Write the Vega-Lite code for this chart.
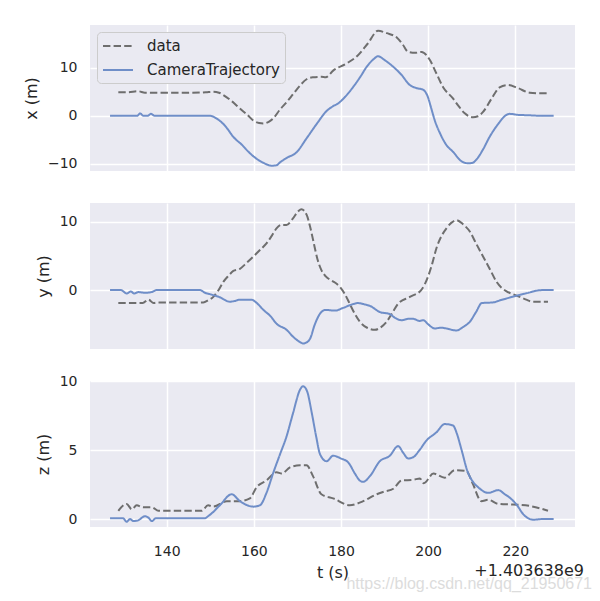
{
  "$schema": "https://vega.github.io/schema/vega-lite/v6.json",
  "autosize": {"type": "pad"},
  "padding": {"left": 23, "top": 25, "right": 5, "bottom": 5},
  "background": "white",
  "bounds": "flush",
  "config": {
    "font": "DejaVu Sans",
    "view": {"fill": "#EAEAF2", "stroke": null},
    "axis": {"grid": true, "gridColor": "white", "gridWidth": 1.5, "domain": false, "ticks": false, "labelFont": "DejaVu Sans", "labelFontSize": 14, "labelColor": "#262626", "titleFont": "DejaVu Sans", "titleFontSize": 16, "titleFontWeight": "normal", "titleColor": "#262626", "labelPadding": 13},
    "concat": {"spacing": 32}
  },
  "datasets": {
    "d": [
      {"p":"x","s":"data","t":128.9,"v":4.9},{"p":"x","s":"data","t":131,"v":4.9},{"p":"x","s":"data","t":133.5,"v":5.1},{"p":"x","s":"data","t":135,"v":4.8},{"p":"x","s":"data","t":140,"v":4.8},{"p":"x","s":"data","t":145,"v":4.8},{"p":"x","s":"data","t":149,"v":4.9},{"p":"x","s":"data","t":150.7,"v":5.0},{"p":"x","s":"data","t":152,"v":4.8},{"p":"x","s":"data","t":153,"v":4.3},{"p":"x","s":"data","t":155,"v":3.0},{"p":"x","s":"data","t":156.8,"v":1.5},{"p":"x","s":"data","t":158.5,"v":0.2},{"p":"x","s":"data","t":159.9,"v":-1.0},{"p":"x","s":"data","t":161.2,"v":-1.5},{"p":"x","s":"data","t":162.2,"v":-1.6},{"p":"x","s":"data","t":163.5,"v":-1.2},{"p":"x","s":"data","t":164.5,"v":-0.5},{"p":"x","s":"data","t":166,"v":1.3},{"p":"x","s":"data","t":167.5,"v":2.8},{"p":"x","s":"data","t":169,"v":4.5},{"p":"x","s":"data","t":170.6,"v":6.3},{"p":"x","s":"data","t":172.1,"v":7.6},{"p":"x","s":"data","t":173.5,"v":8.0},{"p":"x","s":"data","t":175.5,"v":8.1},{"p":"x","s":"data","t":176.5,"v":8.0},{"p":"x","s":"data","t":178.2,"v":9.4},{"p":"x","s":"data","t":181.3,"v":10.9},{"p":"x","s":"data","t":183.9,"v":12.6},{"p":"x","s":"data","t":186.2,"v":15.1},{"p":"x","s":"data","t":188.5,"v":17.7},{"p":"x","s":"data","t":190.5,"v":17.2},{"p":"x","s":"data","t":192.8,"v":16.3},{"p":"x","s":"data","t":194.2,"v":14.8},{"p":"x","s":"data","t":195.4,"v":13.3},{"p":"x","s":"data","t":197,"v":13.1},{"p":"x","s":"data","t":198.5,"v":13.3},{"p":"x","s":"data","t":200.4,"v":11.6},{"p":"x","s":"data","t":201.9,"v":8.8},{"p":"x","s":"data","t":203.4,"v":6.0},{"p":"x","s":"data","t":205.7,"v":3.6},{"p":"x","s":"data","t":207,"v":2.0},{"p":"x","s":"data","t":208.4,"v":0.5},{"p":"x","s":"data","t":210.3,"v":-0.3},{"p":"x","s":"data","t":211.4,"v":-0.1},{"p":"x","s":"data","t":212.6,"v":0.8},{"p":"x","s":"data","t":214.5,"v":3.5},{"p":"x","s":"data","t":216.4,"v":5.9},{"p":"x","s":"data","t":218.3,"v":6.4},{"p":"x","s":"data","t":220.5,"v":5.8},{"p":"x","s":"data","t":223.3,"v":4.8},{"p":"x","s":"data","t":225.5,"v":4.7},{"p":"x","s":"data","t":227.5,"v":4.7},

      {"p":"x","s":"CameraTrajectory","t":127,"v":0},{"p":"x","s":"CameraTrajectory","t":133.2,"v":0},{"p":"x","s":"CameraTrajectory","t":133.9,"v":0.5},{"p":"x","s":"CameraTrajectory","t":134.6,"v":0},{"p":"x","s":"CameraTrajectory","t":135.6,"v":0},{"p":"x","s":"CameraTrajectory","t":136.4,"v":0.4},{"p":"x","s":"CameraTrajectory","t":137.2,"v":0},{"p":"x","s":"CameraTrajectory","t":145,"v":0},{"p":"x","s":"CameraTrajectory","t":149.9,"v":0},{"p":"x","s":"CameraTrajectory","t":151.5,"v":-0.6},{"p":"x","s":"CameraTrajectory","t":153.5,"v":-2.2},{"p":"x","s":"CameraTrajectory","t":155.3,"v":-4.4},{"p":"x","s":"CameraTrajectory","t":157.2,"v":-6.0},{"p":"x","s":"CameraTrajectory","t":159.1,"v":-7.8},{"p":"x","s":"CameraTrajectory","t":160.7,"v":-9.0},{"p":"x","s":"CameraTrajectory","t":162.2,"v":-9.8},{"p":"x","s":"CameraTrajectory","t":164.1,"v":-10.4},{"p":"x","s":"CameraTrajectory","t":165.2,"v":-10.3},{"p":"x","s":"CameraTrajectory","t":166,"v":-9.7},{"p":"x","s":"CameraTrajectory","t":167.5,"v":-8.8},{"p":"x","s":"CameraTrajectory","t":169.8,"v":-7.6},{"p":"x","s":"CameraTrajectory","t":172.1,"v":-4.7},{"p":"x","s":"CameraTrajectory","t":174.5,"v":-1.6},{"p":"x","s":"CameraTrajectory","t":176.7,"v":1.0},{"p":"x","s":"CameraTrajectory","t":178.2,"v":2.0},{"p":"x","s":"CameraTrajectory","t":179.4,"v":2.6},{"p":"x","s":"CameraTrajectory","t":181,"v":4.0},{"p":"x","s":"CameraTrajectory","t":182.8,"v":6.0},{"p":"x","s":"CameraTrajectory","t":184.5,"v":8.2},{"p":"x","s":"CameraTrajectory","t":185.9,"v":10.2},{"p":"x","s":"CameraTrajectory","t":187.5,"v":11.8},{"p":"x","s":"CameraTrajectory","t":188.5,"v":12.4},{"p":"x","s":"CameraTrajectory","t":190,"v":11.6},{"p":"x","s":"CameraTrajectory","t":192,"v":10.2},{"p":"x","s":"CameraTrajectory","t":193.8,"v":8.6},{"p":"x","s":"CameraTrajectory","t":195.8,"v":6.4},{"p":"x","s":"CameraTrajectory","t":197.2,"v":5.8},{"p":"x","s":"CameraTrajectory","t":198.9,"v":5.4},{"p":"x","s":"CameraTrajectory","t":199.9,"v":4.0},{"p":"x","s":"CameraTrajectory","t":200.7,"v":1.6},{"p":"x","s":"CameraTrajectory","t":201.5,"v":-0.9},{"p":"x","s":"CameraTrajectory","t":202.8,"v":-3.8},{"p":"x","s":"CameraTrajectory","t":204.2,"v":-6.1},{"p":"x","s":"CameraTrajectory","t":205.7,"v":-7.5},{"p":"x","s":"CameraTrajectory","t":207.7,"v":-9.5},{"p":"x","s":"CameraTrajectory","t":209.2,"v":-9.9},{"p":"x","s":"CameraTrajectory","t":210.2,"v":-9.8},{"p":"x","s":"CameraTrajectory","t":211.1,"v":-9.1},{"p":"x","s":"CameraTrajectory","t":212.6,"v":-7.0},{"p":"x","s":"CameraTrajectory","t":214.1,"v":-4.4},{"p":"x","s":"CameraTrajectory","t":216,"v":-1.8},{"p":"x","s":"CameraTrajectory","t":218,"v":0.2},{"p":"x","s":"CameraTrajectory","t":218.7,"v":0.4},{"p":"x","s":"CameraTrajectory","t":220.5,"v":0.2},{"p":"x","s":"CameraTrajectory","t":223.3,"v":0.1},{"p":"x","s":"CameraTrajectory","t":226,"v":0},{"p":"x","s":"CameraTrajectory","t":228.8,"v":0},

      {"p":"y","s":"data","t":128.9,"v":-1.9},{"p":"y","s":"data","t":134.5,"v":-1.9},{"p":"y","s":"data","t":135.8,"v":-1.4},{"p":"y","s":"data","t":137,"v":-1.9},{"p":"y","s":"data","t":138,"v":-1.8},{"p":"y","s":"data","t":148.4,"v":-1.8},{"p":"y","s":"data","t":149.5,"v":-1.5},{"p":"y","s":"data","t":150.7,"v":-1.0},{"p":"y","s":"data","t":151.8,"v":-0.1},{"p":"y","s":"data","t":153,"v":1.2},{"p":"y","s":"data","t":154.2,"v":2.1},{"p":"y","s":"data","t":155.3,"v":2.8},{"p":"y","s":"data","t":156.8,"v":3.1},{"p":"y","s":"data","t":158.4,"v":4.0},{"p":"y","s":"data","t":159.9,"v":4.9},{"p":"y","s":"data","t":161.5,"v":5.9},{"p":"y","s":"data","t":162.9,"v":6.8},{"p":"y","s":"data","t":164.1,"v":7.9},{"p":"y","s":"data","t":165.2,"v":9.0},{"p":"y","s":"data","t":166.3,"v":9.5},{"p":"y","s":"data","t":167.5,"v":9.5},{"p":"y","s":"data","t":168.8,"v":10.3},{"p":"y","s":"data","t":170.2,"v":11.5},{"p":"y","s":"data","t":170.9,"v":11.8},{"p":"y","s":"data","t":172.1,"v":11.0},{"p":"y","s":"data","t":173,"v":9.0},{"p":"y","s":"data","t":173.6,"v":7.3},{"p":"y","s":"data","t":174.6,"v":4.5},{"p":"y","s":"data","t":175.5,"v":2.9},{"p":"y","s":"data","t":176.5,"v":2.0},{"p":"y","s":"data","t":177.5,"v":1.5},{"p":"y","s":"data","t":178.6,"v":1.1},{"p":"y","s":"data","t":179.7,"v":0.5},{"p":"y","s":"data","t":180.9,"v":-0.6},{"p":"y","s":"data","t":182,"v":-2.0},{"p":"y","s":"data","t":183.2,"v":-3.5},{"p":"y","s":"data","t":184.3,"v":-4.6},{"p":"y","s":"data","t":186,"v":-5.5},{"p":"y","s":"data","t":187.8,"v":-5.8},{"p":"y","s":"data","t":189.2,"v":-5.4},{"p":"y","s":"data","t":190.5,"v":-4.6},{"p":"y","s":"data","t":191.8,"v":-3.3},{"p":"y","s":"data","t":193.1,"v":-2.0},{"p":"y","s":"data","t":195.8,"v":-1.0},{"p":"y","s":"data","t":198.4,"v":0},{"p":"y","s":"data","t":200,"v":2.0},{"p":"y","s":"data","t":201,"v":4.0},{"p":"y","s":"data","t":201.9,"v":6.1},{"p":"y","s":"data","t":203,"v":7.8},{"p":"y","s":"data","t":204.2,"v":9.0},{"p":"y","s":"data","t":205.3,"v":9.8},{"p":"y","s":"data","t":206.5,"v":10.2},{"p":"y","s":"data","t":208,"v":9.6},{"p":"y","s":"data","t":209.6,"v":8.5},{"p":"y","s":"data","t":211,"v":6.8},{"p":"y","s":"data","t":212.6,"v":4.9},{"p":"y","s":"data","t":214.2,"v":3.0},{"p":"y","s":"data","t":215.7,"v":1.2},{"p":"y","s":"data","t":218,"v":-0.2},{"p":"y","s":"data","t":219.5,"v":-0.6},{"p":"y","s":"data","t":221,"v":-1.0},{"p":"y","s":"data","t":222.5,"v":-1.4},{"p":"y","s":"data","t":224,"v":-1.7},{"p":"y","s":"data","t":227.5,"v":-1.7},

      {"p":"y","s":"CameraTrajectory","t":127,"v":0},{"p":"y","s":"CameraTrajectory","t":129.5,"v":0},{"p":"y","s":"CameraTrajectory","t":130.8,"v":-0.5},{"p":"y","s":"CameraTrajectory","t":131.8,"v":-0.2},{"p":"y","s":"CameraTrajectory","t":132.5,"v":-0.5},{"p":"y","s":"CameraTrajectory","t":133.5,"v":-0.3},{"p":"y","s":"CameraTrajectory","t":135,"v":-0.4},{"p":"y","s":"CameraTrajectory","t":136.5,"v":-0.3},{"p":"y","s":"CameraTrajectory","t":137.7,"v":0},{"p":"y","s":"CameraTrajectory","t":147.6,"v":0},{"p":"y","s":"CameraTrajectory","t":148.8,"v":-0.4},{"p":"y","s":"CameraTrajectory","t":149.9,"v":-0.6},{"p":"y","s":"CameraTrajectory","t":152,"v":-1.0},{"p":"y","s":"CameraTrajectory","t":154.5,"v":-1.7},{"p":"y","s":"CameraTrajectory","t":155.6,"v":-1.6},{"p":"y","s":"CameraTrajectory","t":156.8,"v":-1.4},{"p":"y","s":"CameraTrajectory","t":159.5,"v":-1.4},{"p":"y","s":"CameraTrajectory","t":160.5,"v":-1.8},{"p":"y","s":"CameraTrajectory","t":162.2,"v":-2.9},{"p":"y","s":"CameraTrajectory","t":163.8,"v":-3.8},{"p":"y","s":"CameraTrajectory","t":165.2,"v":-4.9},{"p":"y","s":"CameraTrajectory","t":167.5,"v":-5.8},{"p":"y","s":"CameraTrajectory","t":169,"v":-6.8},{"p":"y","s":"CameraTrajectory","t":170.6,"v":-7.6},{"p":"y","s":"CameraTrajectory","t":171.3,"v":-7.8},{"p":"y","s":"CameraTrajectory","t":172.2,"v":-7.6},{"p":"y","s":"CameraTrajectory","t":172.9,"v":-7.1},{"p":"y","s":"CameraTrajectory","t":174,"v":-5.0},{"p":"y","s":"CameraTrajectory","t":175.5,"v":-3.2},{"p":"y","s":"CameraTrajectory","t":176.5,"v":-2.9},{"p":"y","s":"CameraTrajectory","t":178.6,"v":-3.0},{"p":"y","s":"CameraTrajectory","t":180.5,"v":-2.6},{"p":"y","s":"CameraTrajectory","t":182.5,"v":-2.1},{"p":"y","s":"CameraTrajectory","t":183.9,"v":-1.9},{"p":"y","s":"CameraTrajectory","t":185.5,"v":-2.1},{"p":"y","s":"CameraTrajectory","t":186.6,"v":-2.3},{"p":"y","s":"CameraTrajectory","t":188.9,"v":-3.2},{"p":"y","s":"CameraTrajectory","t":191.2,"v":-3.5},{"p":"y","s":"CameraTrajectory","t":192.5,"v":-4.1},{"p":"y","s":"CameraTrajectory","t":193.9,"v":-4.4},{"p":"y","s":"CameraTrajectory","t":195.5,"v":-4.2},{"p":"y","s":"CameraTrajectory","t":196.6,"v":-4.2},{"p":"y","s":"CameraTrajectory","t":198,"v":-4.5},{"p":"y","s":"CameraTrajectory","t":198.9,"v":-4.4},{"p":"y","s":"CameraTrajectory","t":200,"v":-5.0},{"p":"y","s":"CameraTrajectory","t":201.5,"v":-5.6},{"p":"y","s":"CameraTrajectory","t":203,"v":-5.5},{"p":"y","s":"CameraTrajectory","t":204.2,"v":-5.6},{"p":"y","s":"CameraTrajectory","t":206.5,"v":-5.9},{"p":"y","s":"CameraTrajectory","t":208,"v":-5.4},{"p":"y","s":"CameraTrajectory","t":209.6,"v":-4.6},{"p":"y","s":"CameraTrajectory","t":211,"v":-3.2},{"p":"y","s":"CameraTrajectory","t":212.3,"v":-1.9},{"p":"y","s":"CameraTrajectory","t":214.9,"v":-1.8},{"p":"y","s":"CameraTrajectory","t":216.5,"v":-1.5},{"p":"y","s":"CameraTrajectory","t":218.7,"v":-1.1},{"p":"y","s":"CameraTrajectory","t":221,"v":-0.7},{"p":"y","s":"CameraTrajectory","t":223,"v":-0.4},{"p":"y","s":"CameraTrajectory","t":224.8,"v":-0.1},{"p":"y","s":"CameraTrajectory","t":226.5,"v":0},{"p":"y","s":"CameraTrajectory","t":228.8,"v":0},

      {"p":"z","s":"data","t":128.9,"v":0.6},{"p":"z","s":"data","t":130.8,"v":1.1},{"p":"z","s":"data","t":132,"v":0.7},{"p":"z","s":"data","t":133.1,"v":1.0},{"p":"z","s":"data","t":134.6,"v":0.85},{"p":"z","s":"data","t":136.6,"v":0.85},{"p":"z","s":"data","t":138.1,"v":0.6},{"p":"z","s":"data","t":148,"v":0.6},{"p":"z","s":"data","t":149.5,"v":1.0},{"p":"z","s":"data","t":150.7,"v":0.9},{"p":"z","s":"data","t":153.8,"v":1.3},{"p":"z","s":"data","t":156.8,"v":1.3},{"p":"z","s":"data","t":159.1,"v":1.5},{"p":"z","s":"data","t":160.6,"v":2.3},{"p":"z","s":"data","t":162.9,"v":2.8},{"p":"z","s":"data","t":165.2,"v":3.4},{"p":"z","s":"data","t":166.4,"v":3.3},{"p":"z","s":"data","t":168.3,"v":3.75},{"p":"z","s":"data","t":170.6,"v":3.9},{"p":"z","s":"data","t":172.1,"v":3.9},{"p":"z","s":"data","t":173.6,"v":3.1},{"p":"z","s":"data","t":175.5,"v":1.8},{"p":"z","s":"data","t":178.2,"v":1.5},{"p":"z","s":"data","t":182,"v":1.0},{"p":"z","s":"data","t":185.1,"v":1.3},{"p":"z","s":"data","t":188.2,"v":1.8},{"p":"z","s":"data","t":190,"v":2.0},{"p":"z","s":"data","t":192,"v":2.2},{"p":"z","s":"data","t":193.9,"v":2.8},{"p":"z","s":"data","t":196.6,"v":2.85},{"p":"z","s":"data","t":198.1,"v":2.95},{"p":"z","s":"data","t":199,"v":2.6},{"p":"z","s":"data","t":201.2,"v":3.3},{"p":"z","s":"data","t":203.8,"v":3.0},{"p":"z","s":"data","t":206.1,"v":3.55},{"p":"z","s":"data","t":208.7,"v":3.5},{"p":"z","s":"data","t":210.2,"v":2.6},{"p":"z","s":"data","t":212.2,"v":1.3},{"p":"z","s":"data","t":213.8,"v":1.4},{"p":"z","s":"data","t":216.1,"v":1.1},{"p":"z","s":"data","t":219.5,"v":1.05},{"p":"z","s":"data","t":223.3,"v":0.95},{"p":"z","s":"data","t":227.5,"v":0.6},

      {"p":"z","s":"CameraTrajectory","t":127,"v":0.05},{"p":"z","s":"CameraTrajectory","t":130,"v":0.05},{"p":"z","s":"CameraTrajectory","t":130.8,"v":-0.2},{"p":"z","s":"CameraTrajectory","t":131.6,"v":0},{"p":"z","s":"CameraTrajectory","t":132.3,"v":-0.15},{"p":"z","s":"CameraTrajectory","t":133.4,"v":-0.1},{"p":"z","s":"CameraTrajectory","t":135,"v":0.2},{"p":"z","s":"CameraTrajectory","t":135.8,"v":0.1},{"p":"z","s":"CameraTrajectory","t":136.6,"v":-0.15},{"p":"z","s":"CameraTrajectory","t":137.5,"v":0.05},{"p":"z","s":"CameraTrajectory","t":148.6,"v":0.05},{"p":"z","s":"CameraTrajectory","t":149.9,"v":0.3},{"p":"z","s":"CameraTrajectory","t":152.2,"v":1.0},{"p":"z","s":"CameraTrajectory","t":154.9,"v":1.8},{"p":"z","s":"CameraTrajectory","t":156.8,"v":1.3},{"p":"z","s":"CameraTrajectory","t":159.9,"v":0.9},{"p":"z","s":"CameraTrajectory","t":161.4,"v":1.0},{"p":"z","s":"CameraTrajectory","t":162.9,"v":1.9},{"p":"z","s":"CameraTrajectory","t":164.5,"v":3.4},{"p":"z","s":"CameraTrajectory","t":166,"v":4.7},{"p":"z","s":"CameraTrajectory","t":167.5,"v":6.0},{"p":"z","s":"CameraTrajectory","t":169,"v":7.7},{"p":"z","s":"CameraTrajectory","t":170.6,"v":9.4},{"p":"z","s":"CameraTrajectory","t":171.3,"v":9.65},{"p":"z","s":"CameraTrajectory","t":172.2,"v":9.3},{"p":"z","s":"CameraTrajectory","t":173.3,"v":7.7},{"p":"z","s":"CameraTrajectory","t":174.3,"v":6.0},{"p":"z","s":"CameraTrajectory","t":175.2,"v":4.7},{"p":"z","s":"CameraTrajectory","t":176.7,"v":4.2},{"p":"z","s":"CameraTrajectory","t":178.2,"v":4.6},{"p":"z","s":"CameraTrajectory","t":180,"v":4.4},{"p":"z","s":"CameraTrajectory","t":181.7,"v":4.1},{"p":"z","s":"CameraTrajectory","t":183.2,"v":3.3},{"p":"z","s":"CameraTrajectory","t":184.3,"v":2.8},{"p":"z","s":"CameraTrajectory","t":185.1,"v":2.7},{"p":"z","s":"CameraTrajectory","t":186.6,"v":3.1},{"p":"z","s":"CameraTrajectory","t":188.9,"v":4.2},{"p":"z","s":"CameraTrajectory","t":191.2,"v":4.6},{"p":"z","s":"CameraTrajectory","t":193.1,"v":5.3},{"p":"z","s":"CameraTrajectory","t":194.3,"v":4.8},{"p":"z","s":"CameraTrajectory","t":195.4,"v":4.4},{"p":"z","s":"CameraTrajectory","t":196.6,"v":4.5},{"p":"z","s":"CameraTrajectory","t":198,"v":5.0},{"p":"z","s":"CameraTrajectory","t":199.6,"v":5.7},{"p":"z","s":"CameraTrajectory","t":201.9,"v":6.3},{"p":"z","s":"CameraTrajectory","t":203.8,"v":6.9},{"p":"z","s":"CameraTrajectory","t":205.7,"v":6.8},{"p":"z","s":"CameraTrajectory","t":206.6,"v":6.2},{"p":"z","s":"CameraTrajectory","t":207.6,"v":5.1},{"p":"z","s":"CameraTrajectory","t":209.1,"v":3.4},{"p":"z","s":"CameraTrajectory","t":210.3,"v":2.7},{"p":"z","s":"CameraTrajectory","t":211.5,"v":2.3},{"p":"z","s":"CameraTrajectory","t":213.8,"v":1.9},{"p":"z","s":"CameraTrajectory","t":216.1,"v":2.1},{"p":"z","s":"CameraTrajectory","t":217.6,"v":1.8},{"p":"z","s":"CameraTrajectory","t":219.1,"v":1.45},{"p":"z","s":"CameraTrajectory","t":220.4,"v":1.0},{"p":"z","s":"CameraTrajectory","t":221.8,"v":0.36},{"p":"z","s":"CameraTrajectory","t":224.1,"v":-0.05},{"p":"z","s":"CameraTrajectory","t":226.4,"v":0},{"p":"z","s":"CameraTrajectory","t":228.8,"v":0}
    ]
  },
  "vconcat": [
    {
      "width": 485, "height": 146,
      "data": {"name": "d"},
      "transform": [{"filter": "datum.p === 'x'"}],
      "mark": {"type": "line", "strokeWidth": 2, "interpolate": "monotone"},
      "encoding": {
        "x": {"field": "t", "type": "quantitative", "scale": {"domain": [122.4, 233.7], "nice": false, "zero": false}, "axis": {"values": [140, 160, 180, 200, 220], "labels": false, "title": null}},
        "y": {"field": "v", "type": "quantitative", "scale": {"domain": [-11.5, 18.9], "nice": false, "zero": false}, "axis": {"values": [-10, 0, 10], "title": "x (m)", "titlePadding": 8}},
        "color": {"field": "s", "type": "nominal", "scale": {"domain": ["data", "CameraTrajectory"], "range": ["#6e6e6e", "#6f8ec8"]},
          "legend": {"title": null, "orient": "top-left", "offset": 7, "fillColor": "#EAEAF2", "strokeColor": "#CCCCCC", "cornerRadius": 4, "padding": 5, "symbolType": "M-1,0H2.75", "symbolSize": 256, "symbolStrokeWidth": 2, "labelFontSize": 15, "labelFont": "DejaVu Sans", "labelColor": "#262626", "rowPadding": 7, "labelOffset": 27}},
        "strokeDash": {"field": "s", "type": "nominal", "scale": {"domain": ["data", "CameraTrajectory"], "range": [[7.4, 3.2], [1, 0]]},
          "legend": {"title": null, "orient": "top-left", "offset": 7, "fillColor": "#EAEAF2", "strokeColor": "#CCCCCC", "cornerRadius": 4, "padding": 5, "symbolType": "M-1,0H2.75", "symbolSize": 256, "symbolStrokeWidth": 2, "labelFontSize": 15, "labelFont": "DejaVu Sans", "labelColor": "#262626", "rowPadding": 7, "labelOffset": 27}}
      }
    },
    {
      "width": 485, "height": 146,
      "data": {"name": "d"},
      "transform": [{"filter": "datum.p === 'y'"}],
      "mark": {"type": "line", "strokeWidth": 2, "interpolate": "monotone"},
      "encoding": {
        "x": {"field": "t", "type": "quantitative", "scale": {"domain": [122.4, 233.7], "nice": false, "zero": false}, "axis": {"values": [140, 160, 180, 200, 220], "labels": false, "title": null}},
        "y": {"field": "v", "type": "quantitative", "scale": {"domain": [-8.6, 12.7], "nice": false, "zero": false}, "axis": {"values": [0, 10], "title": "y (m)", "titlePadding": 8}},
        "color": {"field": "s", "type": "nominal", "scale": {"domain": ["data", "CameraTrajectory"], "range": ["#6e6e6e", "#6f8ec8"]}, "legend": null},
        "strokeDash": {"field": "s", "type": "nominal", "scale": {"domain": ["data", "CameraTrajectory"], "range": [[7.4, 3.2], [1, 0]]}, "legend": null}
      }
    },
    {
      "width": 485, "height": 146,
      "data": {"name": "d"},
      "transform": [{"filter": "datum.p === 'z'"}],
      "title": {"text": "+1.403638e9", "orient": "bottom", "anchor": "end", "fontSize": 16, "fontWeight": "normal", "font": "DejaVu Sans", "color": "#262626", "offset": -17, "dx": 9},
      "mark": {"type": "line", "strokeWidth": 2, "interpolate": "monotone"},
      "encoding": {
        "x": {"field": "t", "type": "quantitative", "scale": {"domain": [122.4, 233.7], "nice": false, "zero": false}, "axis": {"values": [140, 160, 180, 200, 220], "title": "t (s)", "titlePadding": 6, "labelPadding": 17}},
        "y": {"field": "v", "type": "quantitative", "scale": {"domain": [-0.58, 10.03], "nice": false, "zero": false}, "axis": {"values": [0, 5, 10], "title": "z (m)", "titlePadding": 8}},
        "color": {"field": "s", "type": "nominal", "scale": {"domain": ["data", "CameraTrajectory"], "range": ["#6e6e6e", "#6f8ec8"]}, "legend": null},
        "strokeDash": {"field": "s", "type": "nominal", "scale": {"domain": ["data", "CameraTrajectory"], "range": [[7.4, 3.2], [1, 0]]}, "legend": null}
      }
    }
  ],
  "resolve": {"scale": {"color": "independent", "strokeDash": "independent"}},
  "title": {"text": "https://blog.csdn.net/qq_21950671", "orient": "bottom", "anchor": "end", "font": "Liberation Sans", "fontSize": 16, "fontWeight": "normal", "color": "#dcdcdc", "offset": -4, "dx": 8}
}
